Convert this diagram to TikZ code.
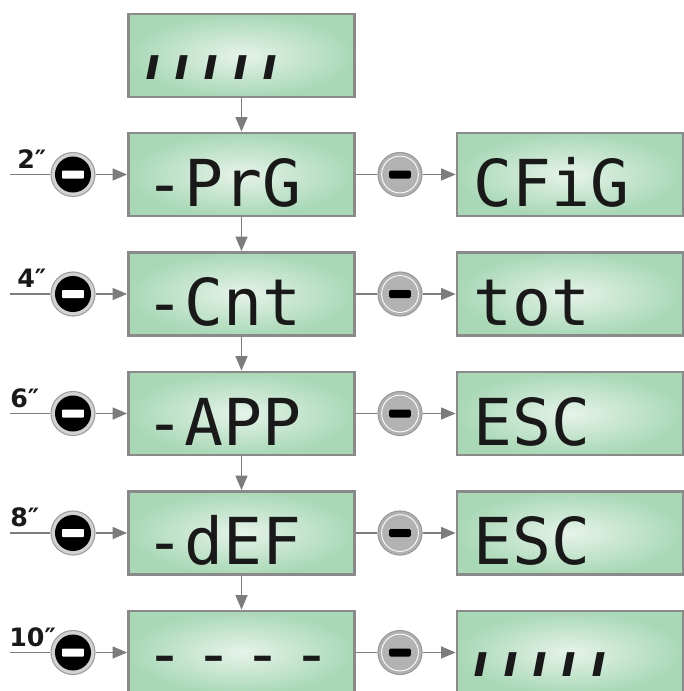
\documentclass[tikz,border=0pt]{standalone}
\usepackage{fontspec}
\setmainfont{DejaVu Sans}
\newfontfamily\lcdfont{DejaVu Sans Mono}
\newfontfamily\barfont[LetterSpace=33]{DejaVu Sans}
\usetikzlibrary{arrows.meta, positioning}

\definecolor{lcdgreen}{HTML}{A9D8B6}
\definecolor{lcdglow}{HTML}{E6F3EA}
\definecolor{framegray}{HTML}{8A8A8A}
\definecolor{wiregray}{HTML}{7C7C7C}
\definecolor{keygray}{HTML}{B2B2B2}
\definecolor{ringgray}{HTML}{D2D2D2}

\begin{document}
\begin{tikzpicture}[
        x=0.025cm, y=-0.025cm,
        lcd/.style={rectangle, draw=framegray, line width=2pt, inner color=lcdglow, outer color=lcdgreen, minimum width=5.65cm, text width=4.81cm, align=left, inner xsep=0.42cm, inner ysep=0.25cm, text height=1.575cm, text depth=0pt, text=black!90, font=\lcdfont\fontsize{46}{46}\selectfont},
        lcdlow/.style={lcd, inner ysep=0.45cm, text height=1.175cm},
        lcdbars/.style={lcdlow, font=\barfont\bfseries\itshape\fontsize{31}{31}\selectfont},
        darkkey/.style={circle, draw=gray!75, line width=0.8pt, fill=ringgray, minimum size=1.1cm, inner sep=0pt,
            path picture={\fill[black] (path picture bounding box.center) circle (0.45cm);
                \fill[white, rounded corners=0.5pt] ([shift={(-0.27cm,-0.1cm)}]path picture bounding box.center) rectangle ++(0.54cm,0.2cm);}},
        lightkey/.style={circle, draw=gray!80, line width=0.8pt, fill=keygray, minimum size=1.1cm, inner sep=0pt,
            path picture={\draw[white, line width=0.6pt] (path picture bounding box.center) circle (0.46cm);
                \fill[black, rounded corners=1pt] ([shift={(-0.27cm,-0.1cm)}]path picture bounding box.center) rectangle ++(0.54cm,0.2cm);}},
        secs/.style={anchor=base west, inner sep=0pt, text=black!90, font=\bfseries\fontsize{18}{18}\selectfont},
        wire/.style={draw=wiregray, line width=0.8pt},
        arrow/.style={wire, -{Triangle[length=0.36cm, width=0.3cm]}}
    ]
        \useasboundingbox (0,0) rectangle (684,691);
        \clip (0,0) rectangle (684,691);

        % left column
        \node[lcdbars] (idle) at (241.5,55.5) {ııııı};
        \node[lcd] (prg) at (241.5,174.5) {-PrG};
        \node[lcd] (cnt) at (241.5,294) {-Cnt};
        \node[lcd] (app) at (241.5,413.5) {-APP};
        \node[lcd] (def) at (241.5,533) {-dEF};
        \node[lcdlow] (dash) at (241.5,652.5) {{\spaceskip=7.3pt - - - -}};

        % right column
        \node[lcd] (cfig) at (570,174.5) {CFiG};
        \node[lcd] (tot) at (570,294) {tot};
        \node[lcd] (escA) at (570,413.5) {ESC};
        \node[lcd] (escB) at (570,533) {ESC};
        \node[lcdbars] (done) at (570,652.5) {ııııı};

        \draw[arrow] (idle) -- (prg);
        \draw[arrow] (prg) -- (cnt);
        \draw[arrow] (cnt) -- (app);
        \draw[arrow] (app) -- (def);
        \draw[arrow] (def) -- (dash);

        % hold times on the left key
        \node[darkkey] (holdA) at (73,174.5) {};
        \node[darkkey] (holdB) at (73,294) {};
        \node[darkkey] (holdC) at (73,413.5) {};
        \node[darkkey] (holdD) at (73,533) {};
        \node[darkkey] (holdE) at (73,652.5) {};
        \coordinate (inA) at (10,174.5);
        \coordinate (inB) at (10,294);
        \coordinate (inC) at (10,413.5);
        \coordinate (inD) at (10,533);
        \coordinate (inE) at (10,652.5);
        \node[secs] (tA) at (17,168) {2″};
        \node[secs] (tB) at (17,287.5) {4″};
        \node[secs] (tC) at (10,407) {6″};
        \node[secs] (tD) at (10,526.5) {8″};
        \node[secs] (tE) at (9,646) {10″};
        \draw[wire] (inA) -- (holdA);
        \draw[wire] (inB) -- (holdB);
        \draw[wire] (inC) -- (holdC);
        \draw[wire] (inD) -- (holdD);
        \draw[wire] (inE) -- (holdE);
        \draw[arrow] (holdA) -- (prg);
        \draw[arrow] (holdB) -- (cnt);
        \draw[arrow] (holdC) -- (app);
        \draw[arrow] (holdD) -- (def);
        \draw[arrow] (holdE) -- (dash);

        % confirm keys
        \node[lightkey] (pushA) at (400,174.5) {};
        \node[lightkey] (pushB) at (400,294) {};
        \node[lightkey] (pushC) at (400,413.5) {};
        \node[lightkey] (pushD) at (400,533) {};
        \node[lightkey] (pushE) at (400,652.5) {};
        \draw[wire] (prg) -- (pushA);
        \draw[wire] (cnt) -- (pushB);
        \draw[wire] (app) -- (pushC);
        \draw[wire] (def) -- (pushD);
        \draw[wire] (dash) -- (pushE);
        \draw[arrow] (pushA) -- (cfig);
        \draw[arrow] (pushB) -- (tot);
        \draw[arrow] (pushC) -- (escA);
        \draw[arrow] (pushD) -- (escB);
        \draw[arrow] (pushE) -- (done);
    \end{tikzpicture}
\end{document}
